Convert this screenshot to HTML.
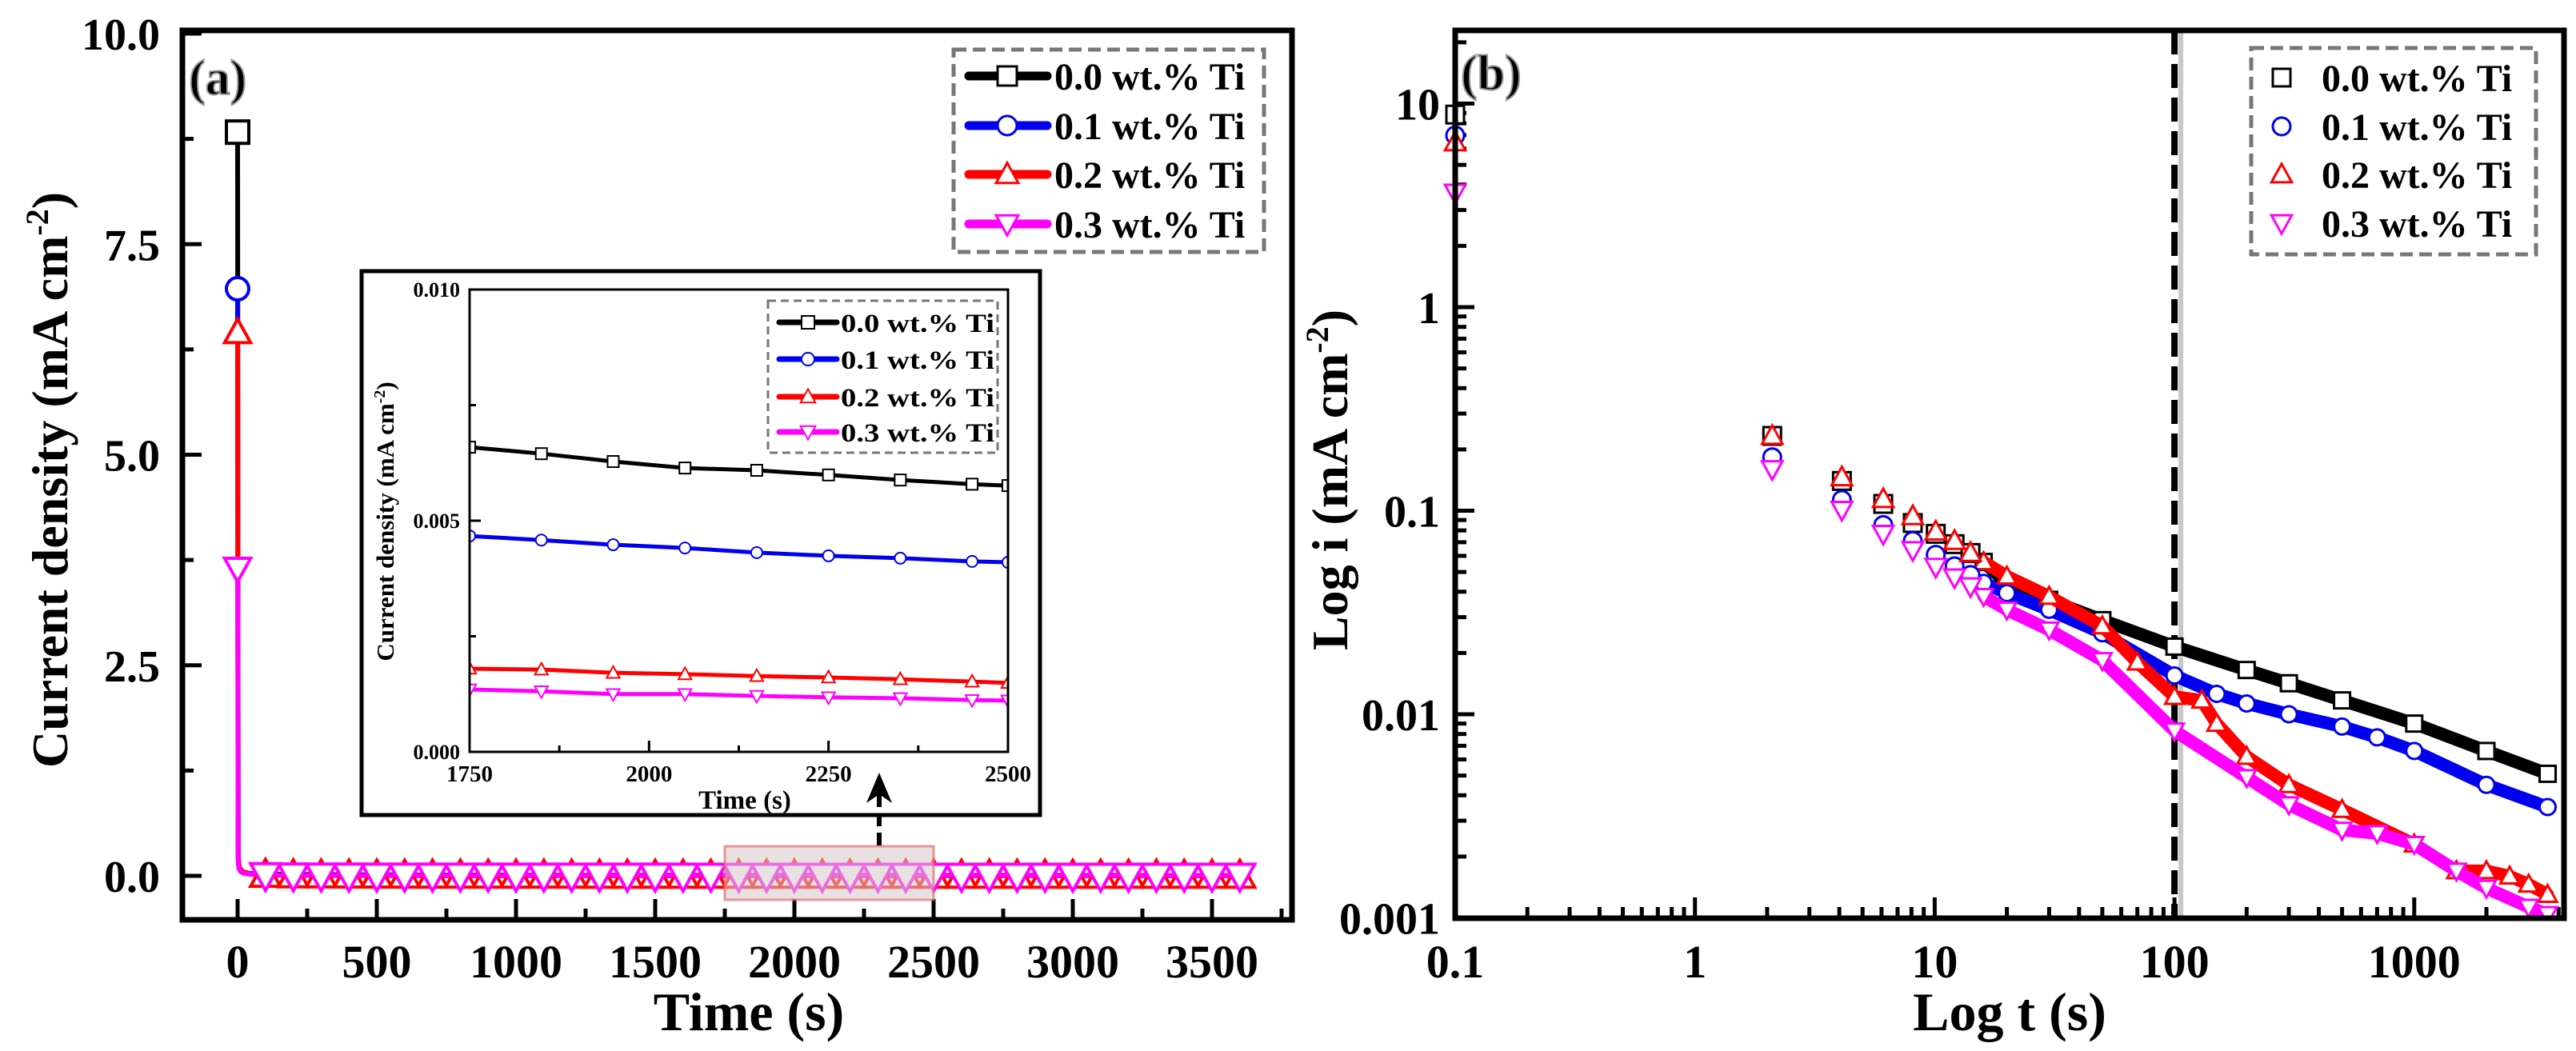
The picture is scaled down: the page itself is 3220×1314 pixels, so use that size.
<!DOCTYPE html>
<html><head><meta charset="utf-8"><style>
html,body{margin:0;padding:0;background:#fff;}
svg{display:block;}
text{font-family:"Liberation Serif",serif;font-weight:bold;fill:#000;}
</style></head><body>
<svg id="fig" width="3220" height="1314" viewBox="0 0 3220 1314" xmlns="http://www.w3.org/2000/svg">
<defs>
<clipPath id="clipB"><rect x="1819" y="38" width="1386" height="1110"/></clipPath>
<clipPath id="clipI"><rect x="587" y="362" width="673" height="578"/></clipPath>
</defs>
<g id="panelA"></g>
<g id="panelB"></g>
</svg>
<script>
// ---------- Data: panel (a) ----------
const seriesNames = ["0.0 wt.% Ti","0.1 wt.% Ti","0.2 wt.% Ti","0.3 wt.% Ti"];
const seriesColors = ["#000000","#0000ee","#ff0000","#ff00ff"];
const seriesShapes = ["sq","ci","tu","td"];
const aTicksY = [0,2.5,5,7.5,10];
const aTickLabelsY = ["0.0","2.5","5.0","7.5","10.0"];
const aTicksX = [0,500,1000,1500,2000,2500,3000,3500];
const tEarly = [0,2.1,5,10,20,40,70];
const earlyBlack = [8.83,0.233,0.12,0.077,0.044,0.03,0.024];
const earlyBlue = [6.97,0.183,0.095,0.061,0.039,0.028,0.019];
const earlyRed = [6.45,0.233,0.125,0.079,0.048,0.031,0.018];
const earlyPink = [3.65,0.16,0.085,0.053,0.033,0.021,0.012];
const tMarks = [0,100,200,300,400,500,600,700,800,900,1000,1100,1200,1300,1400,1500,1600,1700,1800,1900,2000,2100,2200,2300,2400,2500,2600,2700,2800,2900,3000,3100,3200,3300,3400,3500,3600];
const marksBlack = [8.83,.0215,.0165,.0142,.0125,.0117,.0105,.0097,.009,.0085,.008,.0077,.0074,.0071,.0069,.0068,.0067,.0066,.0065,.0063,.0062,.0061,.006,.006,.0059,.0058,.0058,.0057,.0056,.0056,.0055,.0054,.0054,.0053,.0052,.0052,.0051];
const marksBlue = [6.97,.0153,.0113,.01,.0093,.0087,.0082,.0077,.0073,.007,.0066,.0063,.006,.0057,.0054,.0051,.0049,.0047,.0046,.0045,.0044,.0043,.0042,.0041,.0041,.004,.0039,.0039,.0038,.0038,.0037,.0037,.0036,.0036,.0036,.0035,.0035];
const marksRed = [6.45,.0122,.0062,.0045,.004,.0034,.003,.0028,.0026,.0024,.0023,.0022,.0021,.002,.0019,.0018,.0018,.0017,.0017,.0017,.0016,.0016,.0016,.0015,.0015,.0015,.0015,.0014,.0014,.0014,.0014,.0014,.0013,.0013,.0013,.0013,.0013];
const marksPink = [3.65,.0083,.0049,.0036,.003,.0027,.0026,.0026,.0025,.0024,.0023,.0022,.0021,.002,.0019,.0017,.0016,.0015,.0014,.0014,.0014,.0013,.0013,.0013,.0012,.0012,.0012,.0012,.0011,.0011,.0011,.0011,.0011,.0011,.001,.001,.001];
// inset
const tInset = [1750,1850,1950,2050,2150,2250,2350,2450,2500];
const insetBlack = [.00659,.00645,.00628,.00614,.00609,.00599,.00588,.00579,.00576];
const insetBlue = [.00467,.00458,.00448,.00441,.00431,.00424,.00419,.00412,.0041];
const insetRed = [.0018,.00178,.00171,.00168,.00164,.00161,.00157,.00152,.00149];
const insetPink = [.00135,.00131,.00125,.00125,.00121,.00118,.00116,.00112,.00111];
const insetTicksX = [1750,2000,2250,2500];
const insetTicksY = [0,0.005,0.01];
const insetTickLabelsY = ["0.000","0.005","0.010"];
// ---------- Data: panel (b) ----------
const bTicksX = [0.1,1,10,100,1000];
const bTickLabelsX = ["0.1","1","10","100","1000"];
const bTicksY = [0.001,0.01,0.1,1,10];
const bTickLabelsY = ["0.001","0.01","0.1","1","10"];
const tLogEarly = [0.1,2.1,4.1,6.1,8.1,10.1,12.1,14.1];
const logEarlyBlack = [8.83,0.233,0.140,0.108,0.087,0.077,0.0685,0.062];
const logEarlyBlue = [6.97,0.183,0.113,0.085,0.071,0.0607,0.0533,0.0483];
const logEarlyRed = [6.45,0.233,0.146,0.114,0.094,0.079,0.071,0.062];
const logEarlyPink = [3.65,0.160,0.101,0.077,0.064,0.053,0.047,0.0425];
const tBandBlack = [16,20,30,50,100,200,300,500,1000,2000,3600];
const bandBlack = [0.056,0.044,0.0365,0.029,0.0215,0.0165,0.0142,0.0117,0.009,0.0066,0.0051];
const tBandBlue = [16,20,30,50,100,150,200,300,500,700,1000,2000,3600];
const bandBlue = [0.0442,0.0394,0.0326,0.025,0.0155,0.0126,0.0113,0.01,0.0087,0.0077,0.0066,0.0045,0.0035];
const tBandRed = [16,20,30,50,70,100,130,150,200,300,500,1000,1500,2000,2500,3000,3600];
const bandRed = [0.056,0.0476,0.0379,0.0271,0.018,0.0122,0.0117,0.009,0.0062,0.0045,0.0034,0.0023,0.0017,0.0017,0.0016,0.00146,0.0013];
const tBandPink = [16,20,30,50,100,200,300,500,700,1000,1500,2000,3000,3600];
const bandPink = [0.038,0.0326,0.026,0.0184,0.0083,0.0049,0.0036,0.0027,0.0026,0.0023,0.0017,0.0014,0.00113,0.00104];

const NS = "http://www.w3.org/2000/svg";
function mk(parent, tag, attrs){
  const e = document.createElementNS(NS, tag);
  for (const k in attrs) e.setAttribute(k, attrs[k]);
  parent.appendChild(e);
  return e;
}
function marker(parent, shape, x, y, s, color, sw){
  let e;
  if (shape==="sq") e = mk(parent,"rect",{x:x-s/2,y:y-s/2,width:s,height:s,fill:"#fff",stroke:color,"stroke-width":sw});
  else if (shape==="ci") e = mk(parent,"circle",{cx:x,cy:y,r:s/2,fill:"#fff",stroke:color,"stroke-width":sw});
  else if (shape==="tu") e = mk(parent,"polygon",{points:`${x},${y-s*0.6} ${x-s*0.58},${y+s*0.45} ${x+s*0.58},${y+s*0.45}`,fill:"#fff",stroke:color,"stroke-width":sw});
  else e = mk(parent,"polygon",{points:`${x},${y+s*0.6} ${x-s*0.58},${y-s*0.45} ${x+s*0.58},${y-s*0.45}`,fill:"#fff",stroke:color,"stroke-width":sw});
  return e;
}
function txt(parent, x, y, str, size, anchor, extra){
  const e = mk(parent,"text",Object.assign({x:x,y:y,"font-size":size,"text-anchor":anchor||"start"},extra||{}));
  e.textContent = str;
  return e;
}

// ================= PANEL A =================
const A = document.getElementById("panelA");
const xA = t => 297 + t*0.348;
const yA = v => 1095 - v*105.3;
const AL=228, AR=1615, AT=38, AB=1150;

const aTickG = mk(A,"g",{});


for (let t=0; t<=3750; t+=250){
  const major = (t%500===0);
  mk(aTickG,"line",{x1:xA(t),x2:xA(t),y1:AB,y2:AB-(major?26:14),stroke:"#000","stroke-width":5});
}
for (let v=0; v<=10; v+=1.25){
  const major = (Math.abs(v/2.5-Math.round(v/2.5))<1e-6);
  mk(aTickG,"line",{x1:AL,x2:AL+(major?24:14),y1:yA(v),y2:yA(v),stroke:"#000","stroke-width":5});
}
aTicksX.forEach(t=>{
  const e = txt(A,xA(t),1222,String(t),58,"middle");
  
  
});
aTicksY.forEach((v,i)=>{
  const e = txt(A,200,yA(v)+20,aTickLabelsY[i],56,"end");
  
  
});
const xtA = txt(A,936,1288,"Time (s)",68,"middle");


const ytA = mk(A,"text",{x:0,y:0,"font-size":64,"text-anchor":"middle",transform:"translate(84,600) rotate(-90)"});
ytA.innerHTML = 'Current density (mA cm<tspan dy="-24" font-size="40">-2</tspan><tspan dy="24">)</tspan>';



const earlyVals = [earlyBlack,earlyBlue,earlyRed,earlyPink];
const markVals = [marksBlack,marksBlue,marksRed,marksPink];
for (let s=0;s<4;s++){
  const g = mk(A,"g",{});
  
  
  const pts = [];
  tEarly.forEach((t,i)=>pts.push(xA(t)+","+yA(earlyVals[s][i])));
  tMarks.forEach((t,i)=>{ if(t>tEarly[tEarly.length-1]) pts.push(xA(t)+","+yA(markVals[s][i])); });
  const pl = mk(g,"polyline",{points:pts.join(" "),fill:"none",stroke:seriesColors[s],"stroke-width":6,"stroke-linejoin":"round"});
  
  
}
for (let s=0;s<4;s++){
  const g = mk(A,"g",{});
  
  
  tMarks.forEach((t,i)=>{
    const hidden = (s<2 && t>0);
    const m = marker(g,seriesShapes[s],xA(t),yA(markVals[s][i]),hidden?12:(t>0?32:28),seriesColors[s],4);
    
    
  });
}
const hl = mk(A,"rect",{x:xA(1750),y:1058,width:xA(2500)-xA(1750),height:67,fill:"rgba(215,200,200,0.55)",stroke:"rgba(225,110,110,0.7)","stroke-width":3});



const fA = mk(A,"rect",{x:AL,y:AT,width:AR-AL,height:AB-AT,fill:"none",stroke:"#000","stroke-width":7});


const labA = txt(A,236,118,"(a)",62,"start");


labA.setAttribute('fill','#222');
labA.setAttribute('stroke','#999');
labA.setAttribute('stroke-width','2');

const legA = mk(A,"g",{});


mk(legA,"rect",{x:1192,y:62,width:388,height:253,fill:"#fff",stroke:"#777","stroke-width":5,"stroke-dasharray":"16 8"});
const legAy=[95,157,218,280];
for (let s=0;s<4;s++){
  const e = mk(legA,"g",{});
  
  
  mk(e,"line",{x1:1211,x2:1309,y1:legAy[s],y2:legAy[s],stroke:seriesColors[s],"stroke-width":11,"stroke-linecap":"round"});
  marker(e,seriesShapes[s],1259,legAy[s],24,seriesColors[s],3);
  txt(e,1318,legAy[s]+17,seriesNames[s],48,"start");
}

// ---------- inset ----------
const I = mk(A,"g",{});


mk(I,"rect",{x:452,y:339,width:848,height:680,fill:"#fff",stroke:"#000","stroke-width":5});
const xI = t => 587 + (t-1750)*0.8973;
const yI = v => 940 - v*57800;
for (let t=1750;t<=2500;t+=125){
  const major = ((t-1750)%250===0);
  mk(I,"line",{x1:xI(t),x2:xI(t),y1:940,y2:940-(major?14:8),stroke:"#000","stroke-width":3});
}
for (let v=0; v<=0.01001; v+=0.0025){
  const major = (Math.abs(v/0.005-Math.round(v/0.005))<1e-6);
  mk(I,"line",{x1:587,x2:587+(major?14:8),y1:yI(v),y2:yI(v),stroke:"#000","stroke-width":3});
}
insetTicksX.forEach(t=>{
  const e = txt(I,xI(t),977,String(t),29,"middle");
  
  
});
insetTicksY.forEach((v,i)=>{
  const e = txt(I,575,yI(v)+9,insetTickLabelsY[i],26,"end");
  
  
});
const ixt = txt(I,931,1011,"Time (s)",33,"middle");


const iyt = mk(I,"text",{x:0,y:0,"font-size":31,"text-anchor":"middle",transform:"translate(492,652) rotate(-90)"});
iyt.innerHTML = 'Current density (mA cm<tspan dy="-11" font-size="20">-2</tspan><tspan dy="11">)</tspan>';


const insetVals = [insetBlack,insetBlue,insetRed,insetPink];
const ig = mk(I,"g",{"clip-path":"url(#clipI)"});
for (let s=0;s<4;s++){
  const g = mk(ig,"g",{});
  
  
  mk(g,"polyline",{points:tInset.map((t,i)=>xI(t)+","+yI(insetVals[s][i])).join(" "),fill:"none",stroke:seriesColors[s],"stroke-width":5});
  tInset.forEach((t,i)=>{
    const m = marker(g,seriesShapes[s],xI(t),yI(insetVals[s][i]),14,seriesColors[s],2);
    
    
  });
}
mk(I,"rect",{x:587,y:362,width:673,height:578,fill:"none",stroke:"#000","stroke-width":3});
const legI = mk(I,"g",{});


mk(legI,"rect",{x:960,y:376,width:287,height:190,fill:"#fff",stroke:"#777","stroke-width":3,"stroke-dasharray":"10 6"});
const legIy=[403,449,496,540];
for (let s=0;s<4;s++){
  const e = mk(legI,"g",{});
  
  
  mk(e,"line",{x1:974,x2:1046,y1:legIy[s],y2:legIy[s],stroke:seriesColors[s],"stroke-width":7,"stroke-linecap":"round"});
  marker(e,seriesShapes[s],1010,legIy[s],16,seriesColors[s],2);
  txt(e,1051,legIy[s]+12,seriesNames[s],33,"start",{textLength:192,lengthAdjust:"spacingAndGlyphs"});
}
// arrow (drawn over inset)
const arr = mk(A,"g",{});


mk(arr,"line",{x1:1099,y1:1057,x2:1099,y2:990,stroke:"#000","stroke-width":6,"stroke-dasharray":"16 8"});
mk(arr,"polygon",{points:"1099,966 1083,1004 1099,993 1115,1004",fill:"#000"});

// ================= PANEL B =================
const B = document.getElementById("panelB");
const BL=1819, BR=3205, BT=38, BB=1148;
const xB = t => 1819 + (Math.log10(t)+1)*299.7;
const yB = v => 893 - (Math.log10(v)+2)*254.5;
const bTickG = mk(B,"g",{});


for (let d=-1; d<=3; d++){
  for (let k=1;k<=9;k++){
    const t = k*Math.pow(10,d);
    const x = xB(t); if (x>BR) continue;
    mk(bTickG,"line",{x1:x,x2:x,y1:BB,y2:BB-(k===1?26:14),stroke:"#000","stroke-width":5});
  }
}
for (let d=-3; d<=1; d++){
  for (let k=1;k<=9;k++){
    const v = k*Math.pow(10,d);
    const y = yB(v); if (y<BT) continue;
    mk(bTickG,"line",{x1:BL,x2:BL+(k===1?24:14),y1:y,y2:y,stroke:"#000","stroke-width":5});
  }
}
bTicksX.forEach((t,i)=>{
  const e = txt(B,xB(t),1222,bTickLabelsX[i],58,"middle");
  
  
});
bTicksY.forEach((v,i)=>{
  const e = txt(B,1800,yB(v)+20,bTickLabelsY[i],56,"end");
  
  
});
const xtB = txt(B,2512,1288,"Log t (s)",68,"middle");


const ytB = mk(B,"text",{x:0,y:0,"font-size":64,"text-anchor":"middle",transform:"translate(1684,600) rotate(-90)"});
ytB.innerHTML = 'Log i (mA cm<tspan dy="-24" font-size="40">-2</tspan><tspan dy="24">)</tspan>';



const dl = mk(B,"g",{});


mk(dl,"line",{x1:xB(100)+8,x2:xB(100)+8,y1:BT,y2:BB,stroke:"#c8c8c8","stroke-width":6});
mk(dl,"line",{x1:xB(100),x2:xB(100),y1:BT,y2:BB,stroke:"#000","stroke-width":8,"stroke-dasharray":"30 12"});

const bg = mk(B,"g",{"clip-path":"url(#clipB)"});
const logEarly = [logEarlyBlack,logEarlyBlue,logEarlyRed,logEarlyPink];
const bandT = [tBandBlack,tBandBlue,tBandRed,tBandPink];
const bandV = [bandBlack,bandBlue,bandRed,bandPink];
for (let s=0;s<4;s++){
  const g = mk(bg,"g",{});
  
  
  const pl = mk(g,"polyline",{points:bandT[s].map((t,i)=>xB(t)+","+yB(bandV[s][i])).join(" "),fill:"none",stroke:seriesColors[s],"stroke-width":16,"stroke-linejoin":"round","stroke-linecap":"round"});
  
  
  bandT[s].forEach((t,i)=>{
    const m = marker(g,seriesShapes[s],xB(t),yB(bandV[s][i]),20,seriesColors[s],3);
    
    
  });
}
for (let s=0;s<4;s++){
  const g = mk(B,"g",{});
  
  
  tLogEarly.forEach((t,i)=>{
    const m = marker(g,seriesShapes[s],xB(t),yB(logEarly[s][i]),22,seriesColors[s],3);
    
    
  });
}
const fB = mk(B,"rect",{x:BL,y:BT,width:BR-BL,height:BB-BT,fill:"none",stroke:"#000","stroke-width":7});


const labB = txt(B,1826,112,"(b)",62,"start");


labB.setAttribute('fill','#222');
labB.setAttribute('stroke','#999');
labB.setAttribute('stroke-width','2');

const legB = mk(B,"g",{});


mk(legB,"rect",{x:2814,y:60,width:356,height:258,fill:"#fff",stroke:"#777","stroke-width":5,"stroke-dasharray":"16 8"});
const legBy=[97,158,218,279];
for (let s=0;s<4;s++){
  const e = mk(legB,"g",{});
  
  
  marker(e,seriesShapes[s],2852,legBy[s],22,seriesColors[s],3);
  txt(e,2902,legBy[s]+17,seriesNames[s],48,"start");
}
</script>
</body></html>
